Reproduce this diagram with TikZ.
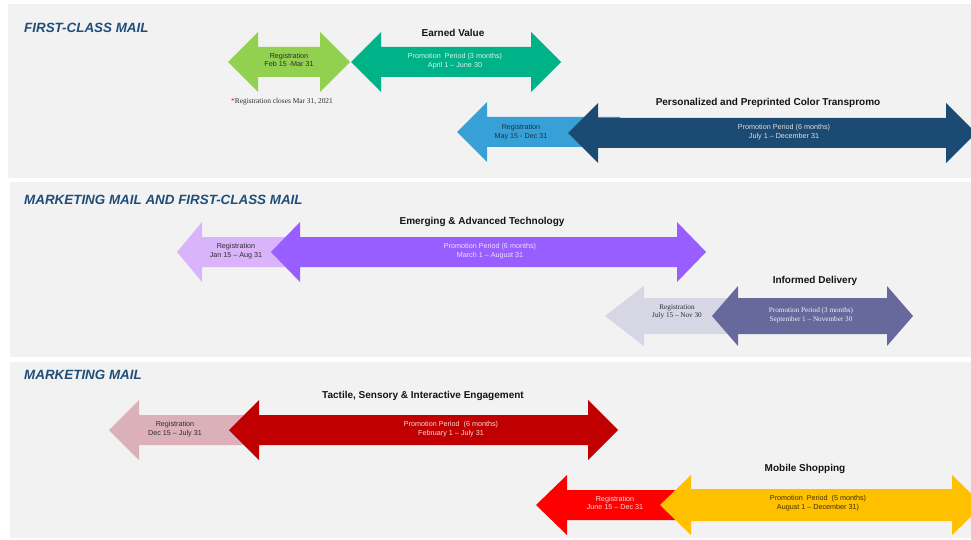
\documentclass[tikz,border=0pt]{standalone}
\usepackage{fontspec}
\setmainfont{Liberation Sans}
\newfontfamily\timesfont{Liberation Serif}
\usepackage{tikz}
\definecolor{panelFill}{RGB}{242, 242, 242}
\definecolor{sectionColor}{RGB}{31, 78, 121}
\definecolor{titleColor}{RGB}{20, 20, 20}
\definecolor{darkText}{RGB}{45, 45, 50}
\definecolor{evReg}{RGB}{146, 208, 80}
\definecolor{evPromo}{RGB}{0, 178, 136}
\definecolor{ppReg}{RGB}{55, 160, 214}
\definecolor{ppPromo}{RGB}{27, 75, 114}
\definecolor{etReg}{RGB}{218, 180, 250}
\definecolor{etPromo}{RGB}{152, 94, 255}
\definecolor{idReg}{RGB}{214, 214, 228}
\definecolor{idPromo}{RGB}{103, 104, 155}
\definecolor{tsReg}{RGB}{220, 176, 184}
\definecolor{tsPromo}{RGB}{192, 0, 0}
\definecolor{msReg}{RGB}{255, 0, 0}
\definecolor{msPromo}{RGB}{255, 192, 0}
\tikzset{
    panel_box/.style={
        fill=panelFill,
        draw=none
    },
    section_title/.style={
        anchor=west,
        inner sep=0pt,
        text=sectionColor,
        font=\fontsize{13.4}{15}\selectfont\bfseries\itshape
    },
    bar_title/.style={
        inner sep=0pt,
        text=titleColor,
        font=\fontsize{10}{12}\selectfont\bfseries
    },
    bar_text/.style={
        inner sep=0pt,
        align=center,
        font=\fontsize{7.2}{8.6}\selectfont
    },
    reg_text/.style={
        bar_text,
        text=darkText
    },
    promo_text/.style={
        bar_text,
        text=white!88!black
    },
    serif_text/.style={
        inner sep=0pt,
        align=center,
        font=\timesfont\fontsize{7.2}{8.6}\selectfont
    }
}
% double-headed bar: colour, left tip, right tip, centre y, head length, half shaft
\newcommand{\twoheadbar}[6]{%
    \fill[#1] ({#2},{#4}) -- ({#2+#5},{#4-30}) -- ({#2+#5},{#4-#6})
        -- ({#3-#5},{#4-#6}) -- ({#3-#5},{#4-30}) -- ({#3},{#4})
        -- ({#3-#5},{#4+30}) -- ({#3-#5},{#4+#6}) -- ({#2+#5},{#4+#6})
        -- ({#2+#5},{#4+30}) -- cycle;}
% left-pointing bar: colour, tip, tail, centre y, head length, half shaft
\newcommand{\leftbar}[6]{%
    \fill[#1] ({#2},{#4}) -- ({#2+#5},{#4-30}) -- ({#2+#5},{#4-#6})
        -- ({#3},{#4-#6}) -- ({#3},{#4+#6}) -- ({#2+#5},{#4+#6})
        -- ({#2+#5},{#4+30}) -- cycle;}

\begin{document}
\begin{tikzpicture}[x=1pt, y=-1pt]
    \useasboundingbox (0,0) rectangle (971,540);
    \clip (0,0) rectangle (971,540);

    % the three bands
    \fill[white] (0,0) rectangle (971,540);
    \fill[panel_box] (8,4) rectangle (971,178);
    \fill[panel_box] (10,182) rectangle (971,357);
    \fill[panel_box] (10,362) rectangle (971,538);

    \node[section_title] (fcm) at (24,28) {FIRST-CLASS MAIL};
    \node[section_title] (mmfcm) at (24,200) {MARKETING MAIL AND FIRST-CLASS MAIL};
    \node[section_title] (mm) at (24,375) {MARKETING MAIL};

    % Earned Value
    \twoheadbar{evReg}{228}{350}{62}{30}{15}
    \twoheadbar{evPromo}{351}{561}{62}{30}{15}
    \node[bar_title] (ev-title) at (453,33) {Earned Value};
    \node[reg_text] (ev-reg) at (289,60) {Registration\\Feb 15 -Mar 31};
    \node[promo_text, text=white!85!evPromo] (ev-promo) at (455,61)
        {Promotion\ \ Period (3 months)\\April 1 – June 30};
    \node[serif_text, text=darkText, font=\timesfont\fontsize{7.4}{8.6}\selectfont] (ev-note) at (282,102)
        {\textcolor{red}{*}Registration closes Mar 31, 2021};

    % Personalized and Preprinted Color Transpromo
    \leftbar{ppReg}{457}{620}{132}{30}{15}
    \twoheadbar{ppPromo}{568}{976}{133}{30}{15}
    \node[bar_title] (pp-title) at (768,103) {Personalized and Preprinted Color Transpromo};
    \node[reg_text, text=ppPromo!70!black] (pp-reg) at (521,132) {Registration\\May 15 - Dec 31};
    \node[promo_text] (pp-promo) at (784,132) {Promotion Period (6 months)\\July 1 – December 31};

    % Emerging & Advanced Technology
    \leftbar{etReg}{177}{300}{252}{25}{15}
    \twoheadbar{etPromo}{271}{706}{252}{29}{15}
    \node[bar_title] (et-title) at (482,222) {Emerging \& Advanced Technology};
    \node[reg_text] (et-reg) at (236,251) {Registration\\Jan 15 – Aug 31};
    \node[promo_text, text=white!82!etPromo] (et-promo) at (490,251)
        {Promotion Period (6 months)\\March 1 – August 31};

    % Informed Delivery
    \leftbar{idReg}{605}{740}{316}{39}{18}
    \twoheadbar{idPromo}{712}{913}{316}{26}{18}
    \node[bar_title] (id-title) at (815,281) {Informed Delivery};
    \node[serif_text, text=darkText] (id-reg) at (677,312) {Registration\\July 15 – Nov 30};
    \node[serif_text, text=white!92!idPromo] (id-promo) at (811,315)
        {Promotion Period (3 months)\\September 1 – November 30};

    % Tactile, Sensory & Interactive Engagement
    \leftbar{tsReg}{109}{262}{430}{30}{15}
    \twoheadbar{tsPromo}{229}{618}{430}{30}{15}
    \node[bar_title] (ts-title) at (423,396) {Tactile, Sensory \& Interactive Engagement};
    \node[reg_text] (ts-reg) at (175,429) {Registration\\Dec 15 – July 31};
    \node[promo_text, text=white!85!tsPromo] (ts-promo) at (451,429)
        {Promotion Period\ \ (6 months)\\February 1 – July 31};

    % Mobile Shopping
    \leftbar{msReg}{536}{700}{505}{31}{15}
    \twoheadbar{msPromo}{660}{983}{505}{31}{16}
    \node[bar_title] (ms-title) at (805,469) {Mobile Shopping};
    \node[promo_text, text=white!85!msReg] (ms-reg) at (615,503) {Registration\\June 15 – Dec 31};
    \node[reg_text, text=msPromo!25!black] (ms-promo) at (818,503)
        {Promotion\ \ Period\ \ (5 months)\\August 1 – December 31)};
\end{tikzpicture}
\end{document}
